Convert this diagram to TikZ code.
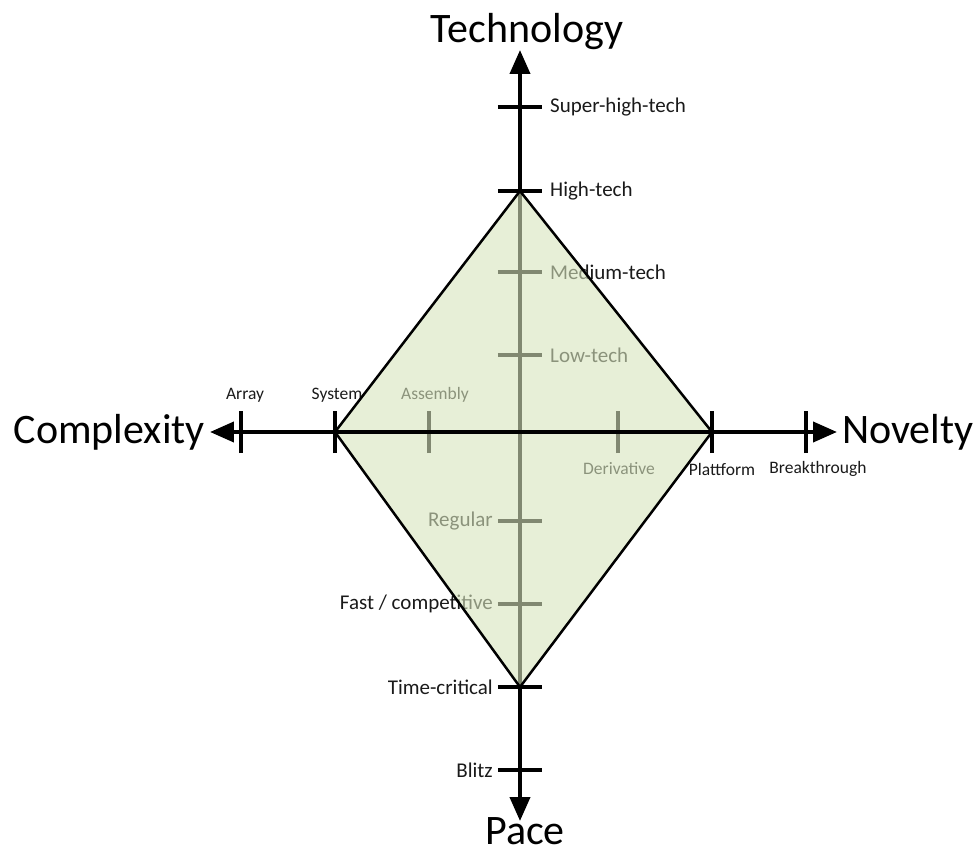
\documentclass[tikz,border=0pt]{standalone}
\usepackage{fontspec}
\setmainfont{Carlito}
\usetikzlibrary{arrows.meta}
\definecolor{diamondfill}{HTML}{D7E4BD}
\definecolor{labeltext}{HTML}{1A1A1A}

\begin{document}
\begin{tikzpicture}[x=1pt,y=1pt]
  \tikzset{
    axis/.style={
      line width=4pt,
      {Triangle[length=24pt,width=20pt]}-{Triangle[length=24pt,width=20pt]}
    },
    tickmark/.style={line width=4pt},
    ticklabel/.style={
      inner sep=0pt,
      text=labeltext,
      font=\fontsize{21}{21}\selectfont
    },
    smalllabel/.style={
      inner sep=0pt,
      text=labeltext,
      font=\fontsize{17.5}{17.5}\selectfont
    },
    axistitle/.style={
      inner sep=0pt,
      font=\fontsize{42}{42}\selectfont
    },
    area/.style={fill=diamondfill, fill opacity=0.6},
    outline/.style={line width=2.5pt, line join=miter}
  }

  \useasboundingbox (-520,-422) rectangle (455,432);

  % axis ends
  \coordinate (top) at (0,382);
  \coordinate (bot) at (0,-389);
  \coordinate (left) at (-310,0);
  \coordinate (right) at (317,0);

  % tick positions
  \coordinate (superhigh) at (0,325);
  \coordinate (high) at (0,241);
  \coordinate (medium) at (0,160);
  \coordinate (low) at (0,77);
  \coordinate (regular) at (0,-89);
  \coordinate (fast) at (0,-172);
  \coordinate (timecrit) at (0,-255);
  \coordinate (blitz) at (0,-338);
  \coordinate (array) at (-279,0);
  \coordinate (system) at (-185,0);
  \coordinate (assembly) at (-91,0);
  \coordinate (derivative) at (98,0);
  \coordinate (plattform) at (192,0);
  \coordinate (breakthrough) at (286,0);

  \draw[axis] (bot) -- (top);
  \draw[axis] (left) -- (right);

  \draw[tickmark] ([xshift=-22pt]superhigh) -- ([xshift=22pt]superhigh);
  \draw[tickmark] ([xshift=-22pt]high) -- ([xshift=22pt]high);
  \draw[tickmark] ([xshift=-22pt]medium) -- ([xshift=22pt]medium);
  \draw[tickmark] ([xshift=-22pt]low) -- ([xshift=22pt]low);
  \draw[tickmark] ([xshift=-22pt]regular) -- ([xshift=22pt]regular);
  \draw[tickmark] ([xshift=-22pt]fast) -- ([xshift=22pt]fast);
  \draw[tickmark] ([xshift=-22pt]timecrit) -- ([xshift=22pt]timecrit);
  \draw[tickmark] ([xshift=-22pt]blitz) -- ([xshift=22pt]blitz);
  \draw[tickmark] ([yshift=-21pt]array) -- ([yshift=21pt]array);
  \draw[tickmark] ([yshift=-21pt]system) -- ([yshift=21pt]system);
  \draw[tickmark] ([yshift=-21pt]assembly) -- ([yshift=21pt]assembly);
  \draw[tickmark] ([yshift=-21pt]derivative) -- ([yshift=21pt]derivative);
  \draw[tickmark] ([yshift=-21pt]plattform) -- ([yshift=21pt]plattform);
  \draw[tickmark] ([yshift=-21pt]breakthrough) -- ([yshift=21pt]breakthrough);

  \node[ticklabel, anchor=west] (lsuperhigh) at ([xshift=30pt]superhigh) {Super-high-tech};
  \node[ticklabel, anchor=west] (lhigh) at ([xshift=30pt]high) {High-tech};
  \node[ticklabel, anchor=west] (lmedium) at ([xshift=30pt]medium) {Medium-tech};
  \node[ticklabel, anchor=west] (llow) at ([xshift=30pt]low) {Low-tech};
  \node[ticklabel, anchor=east] (lregular) at ([xshift=-27pt]regular) {Regular};
  \node[ticklabel, anchor=east] (lfast) at ([xshift=-27pt]fast) {Fast / competitive};
  \node[ticklabel, anchor=east] (ltimecrit) at ([xshift=-27pt]timecrit) {Time-critical};
  \node[ticklabel, anchor=east] (lblitz) at ([xshift=-27pt]blitz) {Blitz};
  \node[smalllabel] (larray) at ([xshift=4pt, yshift=37pt]array) {Array};
  \node[smalllabel] (lsystem) at ([xshift=2pt, yshift=37pt]system) {System};
  \node[smalllabel] (lassembly) at ([xshift=6pt, yshift=37pt]assembly) {Assembly};
  \node[smalllabel] (lderivative) at ([xshift=1pt, yshift=-37pt]derivative) {Derivative};
  \node[smalllabel] (lplattform) at ([xshift=10pt, yshift=-37pt]plattform) {Plattform};
  \node[smalllabel] (lbreakthrough) at ([xshift=12pt, yshift=-37pt]breakthrough) {Breakthrough};

  \node[axistitle] (technology) at (7,400) {Technology};
  \node[axistitle] (pace) at (5,-399) {Pace};
  \node[axistitle, anchor=east] (complexity) at (-315,0) {Complexity};
  \node[axistitle, anchor=west] (novelty) at (322,0) {Novelty};

  % profile
  \fill[area] (high) -- (plattform) -- (timecrit) -- (system) -- cycle;
  \draw[tickmark] (system) -- (plattform);
  \draw[outline] (high) -- (plattform) -- (timecrit) -- (system) -- cycle;
\end{tikzpicture}
\end{document}
